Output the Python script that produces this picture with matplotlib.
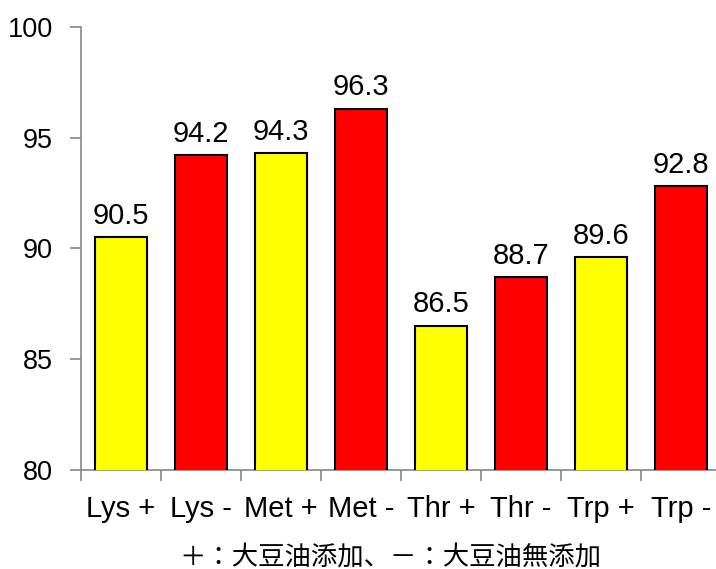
import matplotlib
matplotlib.use("Agg")
import matplotlib.pyplot as plt
import numpy as np

categories = ["Lys +", "Lys -", "Met +", "Met -", "Thr +", "Thr -", "Trp +", "Trp -"]
values = [90.5, 94.2, 94.3, 96.3, 86.5, 88.7, 89.6, 92.8]
colors = ["#FFFF00", "#FF0000"] * 4
yticks = [80, 85, 90, 95, 100]
caption = "＋：大豆油添加、－：大豆油無添加"

plt.rcParams["font.family"] = ["Liberation Sans", "DejaVu Sans"]

fig = plt.figure(figsize=(7.16, 5.69), dpi=100)
ax = fig.add_axes([81 / 716, 99 / 569, 640 / 716, 443 / 569])

x = np.arange(len(categories))
bars = ax.bar(x, values, width=0.65, color=colors, edgecolor="black", linewidth=1.5, zorder=3)
for b, v in zip(bars, values):
    ax.text(b.get_x() + b.get_width() / 2, v + 0.35, f"{v:.1f}",
            ha="center", va="bottom", fontsize=21)

ax.set_xlim(-0.5, len(categories) - 0.5)
ax.set_ylim(80, 100)
ax.set_yticks(yticks)
ax.set_xticks(x)
ax.set_xticklabels(categories, fontsize=21)
ax.set_xticks(np.arange(-0.5, len(categories), 1.0), minor=True)
ax.tick_params(axis="x", which="major", length=0, pad=18)
ax.tick_params(axis="x", which="minor", length=8, color="#888888", width=1.2)
ax.tick_params(axis="y", labelsize=19.5, length=8, color="#888888", width=1.2, pad=12)

for s in ["top", "right"]:
    ax.spines[s].set_visible(False)
for s in ["left", "bottom"]:
    ax.spines[s].set_color("#888888")
    ax.spines[s].set_linewidth(1.2)

fig.text(390 / 716, 1 - 557 / 569, caption, ha="center", va="center", fontsize=19,
         family=["Noto Sans CJK JP", "DejaVu Sans"])

fig.savefig("out.png", dpi=100)
